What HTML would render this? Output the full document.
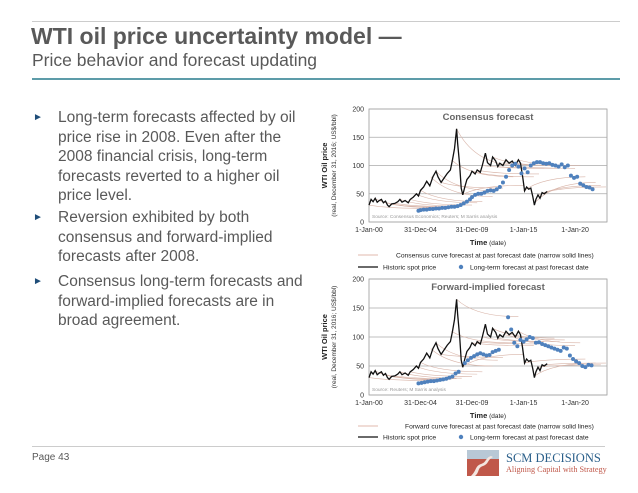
<!DOCTYPE html>
<html><head><meta charset="utf-8">
<style>
body{margin:0;width:638px;height:493px;background:#fff;position:relative;overflow:hidden;font-family:"Liberation Sans",sans-serif;color:#595959}
.abs{position:absolute}
.bl{position:absolute;left:58px;font-size:15.5px;line-height:19.6px;width:252px;color:#595959}
.tri{position:absolute;left:33px;font-size:10px;color:#1f4e79}
</style></head><body>
<div class="abs" style="left:32px;top:21px;width:588px;height:1px;background:#ccc"></div>
<div class="abs" style="left:31px;top:23px;font-size:23px;font-weight:bold;white-space:nowrap">WTI oil price uncertainty model —</div>
<div class="abs" style="left:32px;top:50px;font-size:17.5px;white-space:nowrap">Price behavior and forecast updating</div>
<div class="abs" style="left:32px;top:78px;width:588px;height:2px;background:#5d9ca9"></div>

<div class="tri" style="top:112px">►</div>
<div class="bl" style="top:108px">Long-term forecasts affected by oil price rise in 2008. Even after the 2008 financial crisis, long-term forecasts reverted to a higher oil price level.</div>
<div class="tri" style="top:212px">►</div>
<div class="bl" style="top:208px">Reversion exhibited by both consensus and forward-implied forecasts after 2008.</div>
<div class="tri" style="top:276px">►</div>
<div class="bl" style="top:272px">Consensus long-term forecasts and forward-implied forecasts are in broad agreement.</div>

<svg id="chart" class="abs" style="left:0;top:0" width="638" height="493"></svg>

<div class="abs" style="left:32px;top:446px;width:573px;height:1px;background:#ccc"></div>
<div class="abs" style="left:32px;top:452px;font-size:10px">Page 43</div>
<svg class="abs" style="left:467px;top:450px" width="32" height="26">
<rect x="0" y="0" width="32" height="26" fill="#c0584a"/>
<rect x="0" y="0" width="32" height="9" fill="#b8c8d6"/>
<path d="M4 26 C10 20 8 16 14 14 C20 12 18 8 24 6 L26 7 C20 10 22 14 16 16 C10 18 13 22 8 26Z" fill="#f3e6e0"/>
</svg>
<div class="abs" style="left:506px;top:451px;font-family:'Liberation Serif',serif;font-size:12.5px;color:#2a5f8a;white-space:nowrap">SCM DECISIONS</div>
<div class="abs" style="left:506px;top:465px;font-family:'Liberation Serif',serif;font-size:8.2px;color:#c0584a;white-space:nowrap">Aligning Capital with Strategy</div>

<script>
const spotYears=[2000,2000.2,2000.4,2000.6,2000.8,2001,2001.2,2001.4,2001.6,2001.8,2001.95,2002.2,2002.5,2002.8,2003,2003.2,2003.5,2003.8,2004,2004.3,2004.6,2004.8,2005,2005.3,2005.6,2005.9,2006.2,2006.5,2006.7,2007,2007.3,2007.6,2007.9,2008.1,2008.3,2008.5,2008.6,2008.8,2008.95,2009.1,2009.3,2009.5,2009.8,2010,2010.3,2010.5,2010.8,2011,2011.3,2011.5,2011.8,2012,2012.3,2012.5,2012.7,2013,2013.3,2013.6,2013.9,2014.2,2014.5,2014.7,2014.9,2015.1,2015.3,2015.5,2015.7,2015.9,2016.05,2016.2,2016.4,2016.6,2016.8,2017,2017.3];
const spotVals=[30,40,36,42,35,38,40,34,37,30,27,32,33,36,40,35,38,34,40,44,50,46,56,62,72,64,80,90,80,70,78,86,92,110,130,165,140,100,60,48,62,75,82,90,85,92,88,100,122,105,100,115,108,98,104,100,110,104,108,100,110,104,82,55,62,58,60,45,30,40,48,42,52,50,54];

const c1Years=[2004.8,2005,2005.3,2005.6,2005.9,2006.2,2006.5,2006.8,2007.1,2007.4,2007.7,2008,2008.3,2008.6,2008.9,2009.2,2009.5,2009.8,2010,2010.3,2010.6,2010.9,2011.2,2011.5,2011.8,2012.1,2012.4,2012.7,2013,2013.3,2013.6,2013.9,2014.2,2014.5,2014.8,2015.1,2015.4,2015.7,2016,2016.3,2016.6,2016.9,2017.2,2017.5,2017.8,2018.1,2018.4,2018.7,2019,2019.3,2019.6,2019.9,2020.2,2020.5,2020.8,2021.1,2021.4,2021.7];
const c1Vals=[20,21,22,22,23,23,24,24,25,25,26,27,27,28,30,33,36,40,44,48,50,50,52,55,56,55,58,62,70,80,92,100,103,98,86,95,88,100,104,106,106,104,103,104,101,100,98,102,97,100,82,78,80,68,65,62,61,58];
const c2Years=[2004.8,2005.1,2005.4,2005.7,2006,2006.3,2006.6,2006.9,2007.2,2007.5,2007.8,2008.1,2008.4,2008.7,2009.3,2009.6,2009.9,2010.2,2010.5,2010.8,2011.1,2011.4,2011.7,2012,2012.3,2012.6,2013.5,2013.8,2014.1,2014.4,2014.7,2015,2015.3,2015.6,2015.9,2016.2,2016.5,2016.8,2017.1,2017.4,2017.7,2018,2018.3,2018.6,2018.9,2019.2,2019.5,2019.8,2020.1,2020.4,2020.7,2021,2021.3,2021.6];
const c2Vals=[20,21,22,23,24,24,25,26,27,28,30,32,37,40,55,60,64,67,70,72,70,68,69,74,76,78,134,113,90,84,95,92,96,100,98,90,91,88,86,84,82,80,78,76,82,80,68,62,58,55,50,48,52,51];

const f1StartYears=[2000,2001,2002,2003,2004,2005,2006,2007,2008,2009,2010,2011,2012,2013,2014,2015,2016,2017,2000.5,2002.5,2004.5,2006.5,2008.5,2010.5,2012.5,2014.5,2016.5];
const f1StartVals=[30,38,32,40,40,56,80,70,110,48,90,100,115,105,100,55,32,52,42,33,50,90,165,92,98,110,48];
const f1EndVals=[24,25,26,28,30,36,45,60,80,65,80,95,100,100,95,80,70,62,26,27,34,55,100,85,95,100,65];
const f2StartYears=[2000,2001,2002,2003,2004,2005,2006,2007,2008,2009,2010,2011,2012,2013,2014,2015,2016,2017,2000.5,2002.5,2004.5,2006.5,2008.5,2010.5,2012.5,2014.5,2016.5];
const f2StartVals=[30,38,32,40,40,56,80,70,110,48,90,100,115,105,100,55,32,52,42,33,50,90,165,92,98,110,48];
const f2EndVals=[25,26,27,29,32,40,50,65,90,70,85,92,98,95,85,62,55,55,27,28,36,60,135,88,92,90,52];

const yTicks=[0,50,100,150,200];
const xTickYears=[2000,2005,2010,2015,2020];
const xTickLabels=["1-Jan-00","31-Dec-04","31-Dec-09","1-Jan-15","1-Jan-20"];

const NS="http://www.w3.org/2000/svg";
const svg=document.getElementById('chart');
function mk(tag,attrs,parent,text){const e=document.createElementNS(NS,tag);for(const k in attrs)e.setAttribute(k,attrs[k]);if(text!==undefined)e.textContent=text;(parent||svg).appendChild(e);return e;}

function drawChart(cfg){
  const L=369,R=607,T=cfg.top,B=cfg.bottom;
  const X=y=>L+(y-2000)*(R-L)/23.1;
  const Y=v=>B-v*(B-T)/200;
  const g=mk('g',{});
  
  
  mk('rect',{x:L,y:T,width:R-L,height:B-T,fill:'#fff',stroke:'#999','stroke-width':0.8},g);
  yTicks.forEach(t=>{
    const ln=mk('line',{x1:L,x2:R,y1:Y(t),y2:Y(t),stroke:'#aaa','stroke-width':0.7},g);
    
    
    const tx=mk('text',{x:L-5,y:Y(t)+2.5,'font-size':7,'text-anchor':'end',fill:'#333'},g,String(t));
    
    
  });
  xTickYears.forEach((yr,i)=>{
    const tx=mk('text',{x:X(yr),y:B+10,'font-size':7,'text-anchor':'middle',fill:'#333'},g,xTickLabels[i]);
    
    
  });
  const ti=mk('text',{x:(L+R)/2,y:T+11,'font-size':9.5,'font-weight':'bold','text-anchor':'middle',fill:'#666'},g,cfg.title);
  
  
  const src=mk('text',{x:L+3,y:B-4,'font-size':4.8,fill:'#999'},g,cfg.source);
  
  
  cfg.fs.forEach((sy,i)=>{
    const x0=X(sy),y0=Y(cfg.fv[i]),x1=X(sy+6),y1=Y(cfg.fe[i]);
    const p=mk('path',{d:`M${x0} ${y0} Q${x0+(x1-x0)*0.3} ${y1} ${x1} ${y1}`,fill:'none',stroke:'#d8b4a8','stroke-width':0.6},g);
    
    
  });
  const d=spotYears.map((yr,i)=>(i?'L':'M')+X(yr).toFixed(1)+' '+Y(spotVals[i]).toFixed(1)).join(' ');
  const sp=mk('path',{d:d,fill:'none',stroke:'#111','stroke-width':1.3},g);
  
  
  cfg.dy.forEach((yr,i)=>{
    const c=mk('circle',{cx:X(yr),cy:Y(cfg.dv[i]),r:2,fill:'#4f81bd'},g);
    
    
  });
  const cy=(T+B)/2;
  const a1=mk('text',{x:0,y:0,transform:`translate(${cfg.ax1},${cy}) rotate(-90)`,'font-size':7.5,'font-weight':'bold','text-anchor':'middle',fill:'#222'},g,'WTI Oil price');
  
  
  const a2=mk('text',{x:0,y:0,transform:`translate(${cfg.ax1+9},${cy}) rotate(-90)`,'font-size':6.5,'text-anchor':'middle',fill:'#333'},g,'(real, December 31, 2016; US$/bbl)');
  
  
  const xt=mk('text',{x:488,y:cfg.timeY,'font-size':7.5,'text-anchor':'middle',fill:'#222'},g);
  
  
  mk('tspan',{'font-weight':'bold'},xt,'Time');
  mk('tspan',{'font-size':6.5},xt,' (date)');
  const lg=mk('g',{},g);
  
  
  mk('line',{x1:358,x2:378,y1:cfg.leg1,y2:cfg.leg1,stroke:'#d8a090','stroke-width':0.8},lg);
  mk('text',{x:cfg.leg1x,y:cfg.leg1+2.5,'font-size':6.7,fill:'#222'},lg,cfg.leg1text);
  mk('line',{x1:358,x2:378,y1:cfg.leg2,y2:cfg.leg2,stroke:'#111','stroke-width':1.3},lg);
  mk('text',{x:383,y:cfg.leg2+2.5,'font-size':6.7,fill:'#222'},lg,'Historic spot price');
  mk('circle',{cx:461,cy:cfg.leg2,r:2.2,fill:'#4f81bd'},lg);
  mk('text',{x:470,y:cfg.leg2+2.5,'font-size':6.7,fill:'#222'},lg,'Long-term forecast at past forecast date');
}

drawChart({name:'consensus-chart',top:109,bottom:222,title:'Consensus forecast',source:'Source: Consensus Economics; Reuters; M Sarris analysis',fs:f1StartYears,fv:f1StartVals,fe:f1EndVals,dy:c1Years,dv:c1Vals,ax1:327,timeY:245,leg1:255,leg2:267,leg1x:396,leg1text:'Consensus curve forecast at past forecast date (narrow solid lines)'});
drawChart({name:'forward-chart',top:279,bottom:395,title:'Forward-implied forecast',source:'Source: Reuters; M Sarris analysis',fs:f2StartYears,fv:f2StartVals,fe:f2EndVals,dy:c2Years,dv:c2Vals,ax1:327,timeY:418,leg1:426,leg2:437,leg1x:405,leg1text:'Forward curve forecast at past forecast date (narrow solid lines)'});
</script>
</body></html>
